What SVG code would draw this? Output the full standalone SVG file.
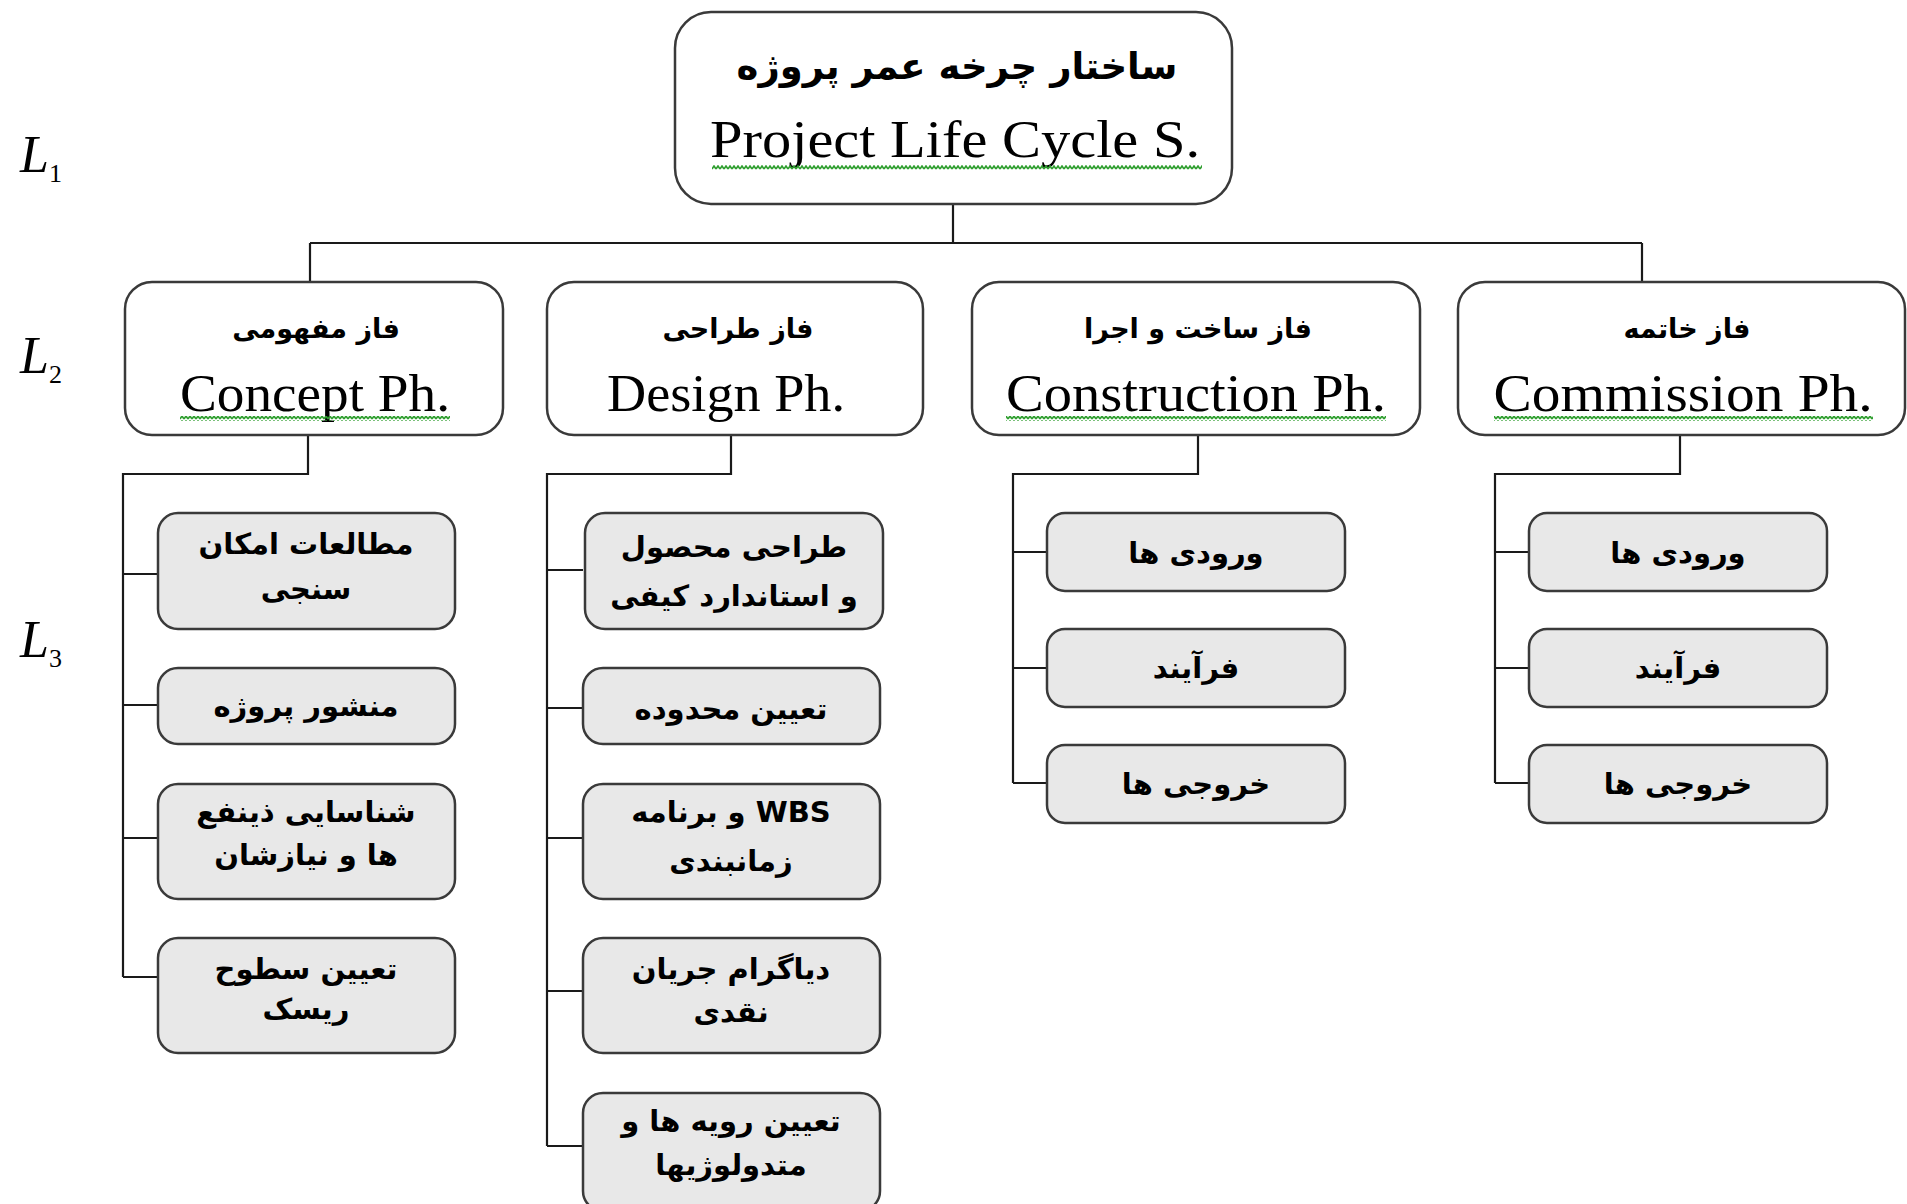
<svg xmlns="http://www.w3.org/2000/svg" width="1907" height="1204" viewBox="0 0 1907 1204">
  <defs>
    <style>
      .bg { fill: #ffffff; }
      .box1, .box2 { fill: #ffffff; stroke: #3a3a3a; stroke-width: 2.5; }
      .box3 { fill: #e8e8e8; stroke: #3a3a3a; stroke-width: 2.5; }
      .conn { fill: none; stroke: #1a1a1a; stroke-width: 2.2; }
      .fa { font-family: "DejaVu Sans", "Noto Sans", sans-serif; font-weight: bold; fill: #000; text-anchor: middle; direction: rtl; dominant-baseline: central; }
      .fa-l1 { font-size: 37px; }
      .fa-l2 { font-size: 27px; }
      .fa-l3 { font-size: 29px; }
      .en { font-family: "Liberation Serif", "DejaVu Serif", serif; fill: #000; text-anchor: middle; font-size: 52px; }
      .lvl { font-family: "Liberation Serif", "DejaVu Serif", serif; fill: #000; font-size: 52px; font-style: italic; }
      .sub { font-style: normal; font-size: 26px; }
      .wave { fill: url(#wave); }
    </style>
    <pattern id="wave" x="0" y="0" width="4" height="5" patternUnits="userSpaceOnUse">
      <path d="M0 4 L2 1 L4 4" fill="none" stroke="#2e9e2e" stroke-width="1.6"/>
    </pattern>
  </defs>

  <rect class="bg" x="0" y="0" width="1907" height="1204"/>

  <!-- level markers -->
  <g id="levels">
    <text class="lvl" x="20" y="172">L<tspan class="sub" dy="10">1</tspan></text>
    <text class="lvl" x="20" y="373">L<tspan class="sub" dy="10">2</tspan></text>
    <text class="lvl" x="20" y="657">L<tspan class="sub" dy="10">3</tspan></text>
  </g>

  <!-- tree connectors -->
  <g id="connectors">
    <path class="conn" d="M953 204 V243 M310 243 H1642 M310 243 V282 M1642 243 V282"/>
    <!-- concept phase -->
    <path class="conn" d="M308 435 V474 H123 V977 M123 574 H158 M123 705 H158 M123 838 H158 M123 977 H158"/>
    <!-- design phase -->
    <path class="conn" d="M731 435 V474 H547 V1146 M547 570 H583 M547 708 H583 M547 838 H583 M547 991 H583 M547 1146 H583"/>
    <!-- construction phase -->
    <path class="conn" d="M1198 435 V474 H1013 V783 M1013 552 H1047 M1013 668 H1047 M1013 783 H1047"/>
    <!-- commission phase -->
    <path class="conn" d="M1680 435 V474 H1495 V783 M1495 552 H1529 M1495 668 H1529 M1495 783 H1529"/>
  </g>

  <!-- level 1 -->
  <g id="root">
    <rect class="box1" x="675" y="12" width="557" height="192" rx="36"/>
    <text class="fa fa-l1" x="957" y="66">ساختار چرخه عمر پروژه</text>
    <text class="en" x="955" y="157" textLength="490" lengthAdjust="spacingAndGlyphs">Project Life Cycle S.</text>
    <rect class="wave" x="712" y="165" width="490" height="5"/>
  </g>

  <!-- level 2 -->
  <g id="concept">
    <rect class="box2" x="125" y="282" width="378" height="153" rx="27"/>
    <text class="fa fa-l2" x="316" y="328">فاز مفهومی</text>
    <text class="en" x="315" y="411" textLength="270" lengthAdjust="spacingAndGlyphs">Concept Ph.</text>
    <rect class="wave" x="180" y="416" width="270" height="5"/>
  </g>
  <g id="design">
    <rect class="box2" x="547" y="282" width="376" height="153" rx="27"/>
    <text class="fa fa-l2" x="738" y="328">فاز طراحی</text>
    <text class="en" x="726" y="411" textLength="238" lengthAdjust="spacingAndGlyphs">Design Ph.</text>
  </g>
  <g id="construction">
    <rect class="box2" x="972" y="282" width="448" height="153" rx="27"/>
    <text class="fa fa-l2" x="1198" y="328">فاز ساخت و اجرا</text>
    <text class="en" x="1196" y="411" textLength="380" lengthAdjust="spacingAndGlyphs">Construction Ph.</text>
    <rect class="wave" x="1006" y="416" width="380" height="5"/>
  </g>
  <g id="commission">
    <rect class="box2" x="1458" y="282" width="447" height="153" rx="27"/>
    <text class="fa fa-l2" x="1687" y="328">فاز خاتمه</text>
    <text class="en" x="1683" y="411" textLength="379" lengthAdjust="spacingAndGlyphs">Commission  Ph.</text>
    <rect class="wave" x="1494" y="416" width="379" height="5"/>
  </g>

  <!-- level 3: concept phase -->
  <g id="feasibility">
    <rect class="box3" x="158" y="513" width="297" height="116" rx="20"/>
    <text class="fa fa-l3" x="306" y="544">مطالعات امکان</text>
    <text class="fa fa-l3" x="306" y="589">سنجی</text>
  </g>
  <g id="charter">
    <rect class="box3" x="158" y="668" width="297" height="76" rx="20"/>
    <text class="fa fa-l3" x="306" y="706">منشور پروژه</text>
  </g>
  <g id="stakeholders">
    <rect class="box3" x="158" y="784" width="297" height="115" rx="20"/>
    <text class="fa fa-l3" x="306" y="812">شناسایی ذینفع</text>
    <text class="fa fa-l3" x="306" y="855">ها و نیازشان</text>
  </g>
  <g id="risk-levels">
    <rect class="box3" x="158" y="938" width="297" height="115" rx="20"/>
    <text class="fa fa-l3" x="306" y="969">تعیین سطوح</text>
    <text class="fa fa-l3" x="306" y="1009">ریسک</text>
  </g>

  <!-- level 3: design phase -->
  <g id="product-design">
    <rect class="box3" x="585" y="513" width="298" height="116" rx="20"/>
    <text class="fa fa-l3" x="734" y="547">طراحی محصول</text>
    <text class="fa fa-l3" x="734" y="596">و استاندارد کیفی</text>
  </g>
  <g id="scope">
    <rect class="box3" x="583" y="668" width="297" height="76" rx="20"/>
    <text class="fa fa-l3" x="731" y="709">تعیین محدوده</text>
  </g>
  <g id="wbs">
    <rect class="box3" x="583" y="784" width="297" height="115" rx="20"/>
    <text class="fa fa-l3" x="731" y="812">WBS و برنامه</text>
    <text class="fa fa-l3" x="731" y="861">زمانبندی</text>
  </g>
  <g id="cash-flow">
    <rect class="box3" x="583" y="938" width="297" height="115" rx="20"/>
    <text class="fa fa-l3" x="731" y="969">دیاگرام جریان</text>
    <text class="fa fa-l3" x="731" y="1012">نقدی</text>
  </g>
  <g id="procedures">
    <rect class="box3" x="583" y="1093" width="297" height="118" rx="20"/>
    <text class="fa fa-l3" x="731" y="1121">تعیین رویه ها و</text>
    <text class="fa fa-l3" x="731" y="1165">متدولوژیها</text>
  </g>

  <!-- level 3: construction phase -->
  <g id="con-inputs">
    <rect class="box3" x="1047" y="513" width="298" height="78" rx="18"/>
    <text class="fa fa-l3" x="1196" y="553">ورودی ها</text>
  </g>
  <g id="con-process">
    <rect class="box3" x="1047" y="629" width="298" height="78" rx="18"/>
    <text class="fa fa-l3" x="1196" y="668">فرآیند</text>
  </g>
  <g id="con-outputs">
    <rect class="box3" x="1047" y="745" width="298" height="78" rx="18"/>
    <text class="fa fa-l3" x="1196" y="784">خروجی ها</text>
  </g>

  <!-- level 3: commission phase -->
  <g id="com-inputs">
    <rect class="box3" x="1529" y="513" width="298" height="78" rx="18"/>
    <text class="fa fa-l3" x="1678" y="553">ورودی ها</text>
  </g>
  <g id="com-process">
    <rect class="box3" x="1529" y="629" width="298" height="78" rx="18"/>
    <text class="fa fa-l3" x="1678" y="668">فرآیند</text>
  </g>
  <g id="com-outputs">
    <rect class="box3" x="1529" y="745" width="298" height="78" rx="18"/>
    <text class="fa fa-l3" x="1678" y="784">خروجی ها</text>
  </g>
</svg>
